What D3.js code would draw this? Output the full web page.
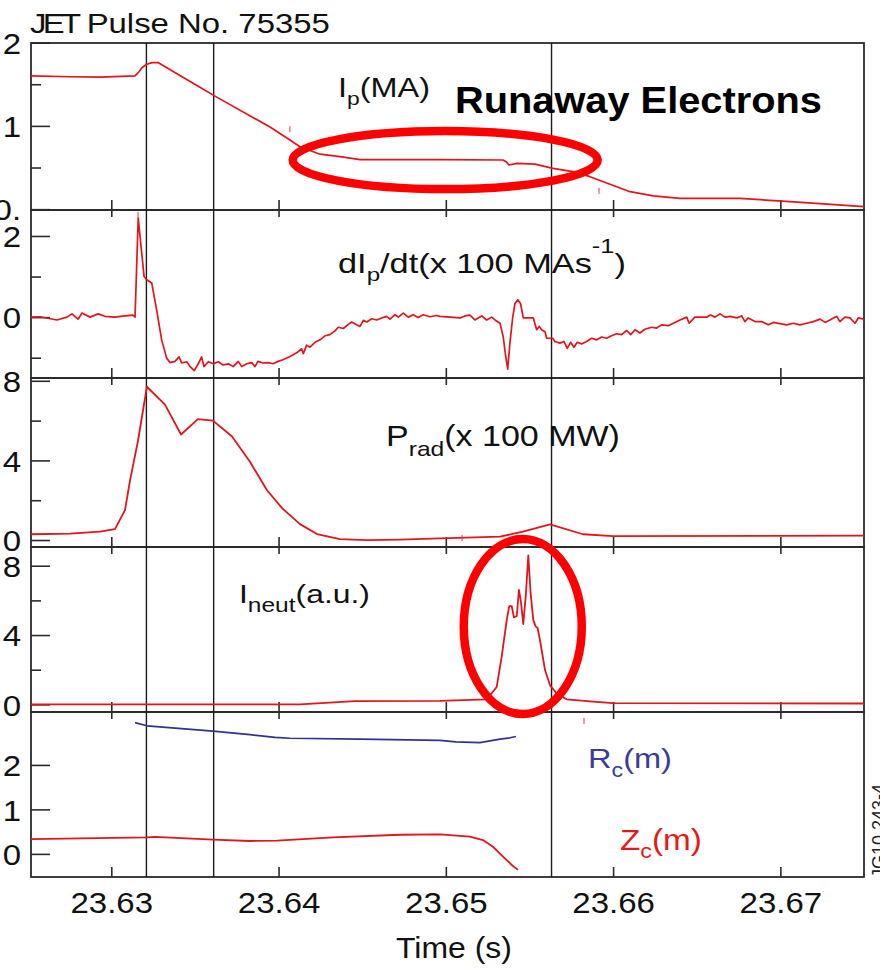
<!DOCTYPE html>
<html>
<head>
<meta charset="utf-8">
<script src="https://cdn.jsdelivr.net/npm/d3@7"></script>
<style>
  body { margin: 0; background: #fff; }
  svg { display: block; }
</style>
</head>
<body>
<svg id="chart" width="880" height="973"></svg>
<script>
// ---- JET pulse 75355 disruption traces: [time (s), value] ----
const plasmaCurrent = [
  [23.62520,1.60],[23.62753,1.59],[23.62932,1.585],[23.63142,1.60],[23.63166,1.65],
  [23.63184,1.70],[23.63213,1.74],[23.63243,1.76],[23.63279,1.76],[23.63512,1.485],
  [23.63620,1.357],[23.63949,0.986],[23.64068,0.83],[23.64128,0.75],[23.64248,0.66],
  [23.64367,0.63],[23.64487,0.595],[23.64965,0.595],[23.65342,0.59],[23.65360,0.57],
  [23.65378,0.53],[23.65425,0.55],[23.65533,0.54],[23.65641,0.49],[23.65760,0.45],
  [23.65862,0.39],[23.66101,0.21],[23.66240,0.16],[23.66400,0.13],[23.66758,0.13],
  [23.67057,0.09],[23.67500,0.03]
];

const currentRate = [
  [23.62520,0.0],[23.62574,0.01],[23.62675,-0.07],[23.62735,0.0],[23.62765,0.08],
  [23.62801,-0.05],[23.62825,0.1],[23.62873,0.0],[23.62921,0.08],[23.62962,0.02],
  [23.63022,0.0],[23.63082,0.03],[23.63130,0.05],[23.63142,0.0],[23.63161,2.44],
  [23.63196,1.0],[23.63212,0.92],[23.63242,0.84],[23.63271,0.18],[23.63301,-0.56],
  [23.63331,-1.01],[23.63351,-1.12],[23.63381,-1.09],[23.63405,-0.98],[23.63421,-1.13],
  [23.63451,-1.1],[23.63471,-1.22],[23.63496,-1.32],[23.63520,-1.15],[23.63540,-0.98],
  [23.63554,-1.22],[23.63580,-1.1],[23.63610,-1.15],[23.63640,-1.1],[23.63668,-1.18],
  [23.63700,-1.15],[23.63729,-1.22],[23.63759,-1.09],[23.63780,-1.22],[23.63809,-1.15],
  [23.63839,-1.12],[23.63859,-1.22],[23.63877,-1.09],[23.63907,-1.13],[23.63937,-1.12],
  [23.63967,-1.15],[23.63997,-1.09],[23.64026,-1.05],[23.64068,-0.97],[23.64108,-0.88],
  [23.64138,-0.78],[23.64148,-0.9],[23.64168,-0.69],[23.64188,-0.74],[23.64218,-0.62],
  [23.64248,-0.56],[23.64278,-0.46],[23.64307,-0.43],[23.64337,-0.34],[23.64357,-0.25],
  [23.64387,-0.28],[23.64417,-0.18],[23.64437,-0.12],[23.64467,-0.19],[23.64487,-0.23],
  [23.64507,-0.08],[23.64527,-0.12],[23.64557,-0.04],[23.64587,-0.07],[23.64616,-0.02],
  [23.64646,0.02],[23.64666,-0.05],[23.64696,0.06],[23.64716,0.0],[23.64746,0.1],
  [23.64775,0.0],[23.64805,0.06],[23.64835,-0.01],[23.64865,0.06],[23.64905,0.01],
  [23.64945,0.04],[23.64965,0.02],[23.65025,0.0],[23.65085,-0.02],[23.65114,0.03],
  [23.65144,0.05],[23.65174,-0.07],[23.65214,0.03],[23.65244,-0.07],[23.65274,0.0],
  [23.65294,-0.07],[23.65324,-0.15],[23.65343,-0.48],[23.65358,-0.97],[23.65370,-1.28],
  [23.65383,-0.64],[23.65400,0.0],[23.65413,0.33],[23.65430,0.43],[23.65447,0.33],
  [23.65463,-0.02],[23.65493,-0.02],[23.65523,-0.02],[23.65543,-0.31],[23.65559,-0.23],
  [23.65573,-0.31],[23.65593,-0.36],[23.65603,-0.52],[23.65623,-0.52],[23.65639,-0.52],
  [23.65652,-0.60],[23.65682,-0.64],[23.65706,-0.60],[23.65726,-0.77],[23.65746,-0.62],
  [23.65766,-0.74],[23.65786,-0.62],[23.65812,-0.66],[23.65842,-0.60],[23.65872,-0.52],
  [23.65902,-0.56],[23.65932,-0.49],[23.65961,-0.52],[23.65991,-0.46],[23.66021,-0.41],
  [23.66051,-0.43],[23.66081,-0.33],[23.66105,-0.43],[23.66131,-0.31],[23.66161,-0.39],
  [23.66190,-0.30],[23.66231,-0.25],[23.66260,-0.27],[23.66290,-0.19],[23.66330,-0.21],
  [23.66360,-0.15],[23.66400,-0.07],[23.66440,0.0],[23.66455,-0.15],[23.66489,0.0],
  [23.66519,0.0],[23.66559,0.0],[23.66583,0.05],[23.66609,0.0],[23.66639,0.08],
  [23.66669,0.0],[23.66699,0.02],[23.66739,-0.02],[23.66769,0.03],[23.66788,-0.11],
  [23.66808,-0.02],[23.66848,-0.11],[23.66888,-0.11],[23.66928,-0.19],[23.66958,-0.13],
  [23.66998,-0.16],[23.67038,-0.19],[23.67077,-0.15],[23.67117,-0.19],[23.67157,-0.15],
  [23.67197,-0.11],[23.67237,-0.05],[23.67267,-0.13],[23.67296,-0.07],[23.67337,0.02],
  [23.67356,-0.11],[23.67386,0.0],[23.67416,-0.02],[23.67446,-0.15],[23.67466,-0.02],
  [23.67500,-0.05]
];

const radiatedPower = [
  [23.62520,0.29],[23.62753,0.32],[23.62932,0.42],[23.63022,0.55],[23.63082,1.5],
  [23.63112,3.0],[23.63160,5.0],[23.63213,7.7],[23.63321,6.8],[23.63417,5.3],
  [23.63518,6.07],[23.63608,6.0],[23.63722,5.2],[23.63829,3.93],[23.63931,2.5],
  [23.64021,1.6],[23.64128,0.8],[23.64230,0.3],[23.64367,0.05],[23.64529,0.0],
  [23.64726,0.02],[23.64965,0.08],[23.65324,0.17],[23.65461,0.42],[23.65623,0.79],
  [23.65820,0.29],[23.65999,0.2],[23.67500,0.22]
];

const neutronRate = [
  [23.62520,0.0],[23.64128,0.0],[23.64457,0.19],[23.64965,0.2],[23.65244,0.29],
  [23.65304,1.0],[23.65334,2.75],[23.65364,4.86],[23.65379,5.67],[23.65394,5.67],
  [23.65407,5.02],[23.65424,5.1],[23.65437,6.6],[23.65449,5.92],[23.65463,4.63],
  [23.65479,6.4],[23.65493,8.6],[23.65507,6.4],[23.65523,4.86],[23.65537,4.5],
  [23.65549,4.4],[23.65563,3.7],[23.65593,1.98],[23.65623,1.1],[23.65663,0.63],
  [23.65722,0.29],[23.65862,0.17],[23.65999,0.07],[23.67500,0.05]
];

const radialPosition = [
  [23.63142,2.95],[23.63213,2.88],[23.63608,2.76],[23.63829,2.68],[23.63979,2.62],
  [23.64068,2.60],[23.64487,2.58],[23.64965,2.55],[23.65060,2.52],[23.65204,2.50],
  [23.65264,2.54],[23.65324,2.58],[23.65384,2.61],[23.65419,2.64]
];

const verticalPosition = [
  [23.62520,0.33],[23.63212,0.37],[23.63261,0.38],[23.63608,0.32],[23.63829,0.29],
  [23.63991,0.30],[23.64325,0.37],[23.64726,0.43],[23.64965,0.44],[23.65144,0.39],
  [23.65222,0.31],[23.65282,0.16],[23.65342,-0.06],[23.65394,-0.25],[23.65431,-0.36]
];

// short event markers on each trace
const ipMarks = [[23.64068,0.96],[23.65916,0.22]];
const rateMarks = [[23.63160,2.52]];
const pradMarks = [[23.65097,0.10]];
const posMarks = [[23.65826,2.99]];

// disruption phase boundaries (s)
const phaseTimes = [23.63210, 23.63612, 23.65632];

// axis ticks
const timeTicks = [23.63, 23.64, 23.65, 23.66, 23.67];
const timeTickLabels = ["23.63", "23.64", "23.65", "23.66", "23.67"];
const ipTicks = [2, 1, 0];
const ipTickLabels = ["2", "1", "0."];
const rateTicks = [2, 0];
const rateTickLabels = ["2", "0"];
const pradTicks = [8, 4, 0];
const pradTickLabels = ["8", "4", "0"];
const neutTicks = [8, 4, 0];
const neutTickLabels = ["8", "4", "0"];
const posTicks = [2, 1, 0];
const posTickLabels = ["2", "1", "0"];

// highlighted regions: centre (time, value) and half-widths (s, value units)
const runawayRing = {t: 23.64996, v: 0.589, dt: 0.009116, dv: 0.348};
const neutronRing = {t: 23.65460, v: 4.49, dt: 0.003527, dv: 5.05};

// ---- drawing ----
const FONT = '"Liberation Sans", Arial, Helvetica, sans-serif';
const FRAME = "#2b2b2b";
const RED = "#e3141c";
const BLUE = "#30328f";
const svg = d3.select("#chart");

const left = 31, right = 864;
const x = d3.scaleLinear().domain([23.6252, 23.6750]).range([left, right]);

const panels = [
  {top: 43,  bottom: 210, domain: [-0.01, 1.995], major: ipTicks,   labels: ipTickLabels,   minor: [0.5, 1.5], topTicks: false},
  {top: 210, bottom: 378, domain: [-1.5, 2.64],   major: rateTicks, labels: rateTickLabels, minor: [1, -1],    topTicks: true},
  {top: 378, bottom: 547, domain: [-0.35, 8.14],  major: pradTicks, labels: pradTickLabels, minor: [6, 2],     topTicks: true},
  {top: 547, bottom: 712, domain: [-0.44, 9.08],  major: neutTicks, labels: neutTickLabels, minor: [6, 2],     topTicks: true},
  {top: 712, bottom: 877, domain: [-0.52, 3.19],  major: posTicks,  labels: posTickLabels,  minor: [],         topTicks: true}
];
panels.forEach(p => {
  p.y = d3.scaleLinear().domain(p.domain).range([p.bottom, p.top]);
});

const axisLayer = svg.append("g");
const traceLayer = svg.append("g");
const annotLayer = svg.append("g");

panels.forEach(p => {
  const g = axisLayer.append("g");
  g.append("rect")
    .attr("x", left).attr("y", p.top)
    .attr("width", right - left).attr("height", p.bottom - p.top)
    .attr("fill", "none").attr("stroke", FRAME).attr("stroke-width", 1.8);

  // value ticks: long inward major ticks with labels, short minor ticks
  const ya = g.append("g").attr("transform", `translate(${left},0)`)
    .call(d3.axisLeft(p.y).tickValues(p.major).tickSize(-19).tickPadding(9)
      .tickFormat((d, i) => p.labels[i]));
  ya.select(".domain").remove();
  ya.selectAll("line").attr("stroke", FRAME).attr("stroke-width", 1.6);
  ya.selectAll("text")
    .attr("font-family", FONT).attr("font-size", 30).attr("fill", "#111")
    .attr("dy", "0.36em").attr("transform", "scale(1.1,1)");

  if (p.minor.length) {
    const ym = g.append("g").attr("transform", `translate(${left},0)`)
      .call(d3.axisLeft(p.y).tickValues(p.minor).tickSize(-10).tickFormat(""));
    ym.select(".domain").remove();
    ym.selectAll("line").attr("stroke", FRAME).attr("stroke-width", 1.6);
  }

  // time ticks on the bottom edge, and on the top edge below the first panel
  const xb = g.append("g").attr("transform", `translate(0,${p.bottom})`)
    .call(d3.axisBottom(x).tickValues(timeTicks).tickSize(-10).tickFormat(""));
  xb.select(".domain").remove();
  xb.selectAll("line").attr("stroke", FRAME).attr("stroke-width", 1.6);
  if (p.topTicks) {
    const xt = g.append("g").attr("transform", `translate(0,${p.top})`)
      .call(d3.axisTop(x).tickValues(timeTicks).tickSize(-7).tickFormat(""));
    xt.select(".domain").remove();
    xt.selectAll("line").attr("stroke", FRAME).attr("stroke-width", 1.6);
  }
});

// clip the "0." label of the top panel at its lower edge
svg.append("defs").append("clipPath").attr("id", "clipTop")
  .append("rect").attr("x", 0).attr("y", 0).attr("width", 880).attr("height", 210);

// time labels under the last panel
const lastP = panels[4];
const xl = axisLayer.append("g").attr("transform", `translate(0,${lastP.bottom})`)
  .call(d3.axisBottom(x).tickValues(timeTicks).tickSize(0)
    .tickFormat((d, i) => timeTickLabels[i]));
xl.select(".domain").remove();
xl.selectAll("text")
  .attr("font-family", FONT).attr("font-size", 30).attr("fill", "#111")
  .attr("y", 36).attr("dy", 0).attr("transform", "scale(1.1,1)");

// phase boundary lines through all panels
axisLayer.selectAll(".phase").data(phaseTimes).join("line")
  .attr("class", "phase")
  .attr("x1", d => x(d)).attr("x2", d => x(d))
  .attr("y1", panels[0].top).attr("y2", panels[4].bottom)
  .attr("stroke", "#1a1a1a").attr("stroke-width", 1.4);

// traces
function trace(data, p, color, width) {
  const line = d3.line().x(d => x(d[0])).y(d => p.y(d[1]));
  traceLayer.append("path").datum(data)
    .attr("d", line).attr("fill", "none")
    .attr("stroke", color).attr("stroke-width", width)
    .attr("stroke-linejoin", "round");
}
trace(plasmaCurrent, panels[0], RED, 1.7);
trace(currentRate, panels[1], RED, 1.7);
trace(radiatedPower, panels[2], RED, 1.8);
trace(neutronRate, panels[3], RED, 1.8);
trace(radialPosition, panels[4], BLUE, 1.7);
trace(verticalPosition, panels[4], RED, 1.8);

// small event markers
function marks(data, p) {
  traceLayer.selectAll(null).data(data).join("line")
    .attr("x1", d => x(d[0])).attr("x2", d => x(d[0]))
    .attr("y1", d => p.y(d[1]) - 3).attr("y2", d => p.y(d[1]) + 3)
    .attr("stroke", "#ee3333").attr("stroke-width", 1);
}
marks(ipMarks, panels[0]);
marks(rateMarks, panels[1]);
marks(pradMarks, panels[2]);
marks(posMarks, panels[4]);

// highlight rings
function ring(r, p) {
  const cx = x(r.t), cy = p.y(r.v);
  annotLayer.append("ellipse")
    .attr("cx", cx).attr("cy", cy)
    .attr("rx", x(r.t + r.dt) - cx).attr("ry", cy - p.y(r.v + r.dv))
    .attr("fill", "none").attr("stroke", "#ff0000").attr("stroke-width", 8.5);
}
ring(runawayRing, panels[0]);
ring(neutronRing, panels[3]);

// text helpers
function fitWidth(sel, x0, width) {
  const bb = sel.node().getBBox();
  const s = width / bb.width;
  sel.attr("transform", `translate(${x0},0) scale(${s},1) translate(${-bb.x},0)`);
}
function richLabel(parts, y, size, color, x0, width, weight) {
  const t = annotLayer.append("text")
    .attr("x", 0).attr("y", y)
    .attr("font-family", FONT).attr("font-size", size)
    .attr("font-weight", weight || "normal")
    .attr("fill", color);
  parts.forEach(pt => {
    const ts = t.append("tspan").text(pt.t);
    if (pt.size) ts.attr("font-size", pt.size);
    if (pt.dy) ts.attr("dy", pt.dy);
    if (pt.ls) ts.attr("letter-spacing", pt.ls);
  });
  fitWidth(t, x0, width);
  return t;
}

richLabel([{t: "JET", ls: -3}, {t: " Pulse No. 75355"}], 33, 27, "#111", 30, 300);
richLabel([{t: "Runaway Electrons"}], 113, 36, "#000", 455, 367, "bold");
richLabel([{t: "I"}, {t: "p", size: 19, dy: 8}, {t: "(MA)", dy: -8}], 97, 27, "#111", 338, 92);
richLabel([{t: "dI"}, {t: "p", size: 19, dy: 8}, {t: "/dt(x 100 MAs", dy: -8},
           {t: "-1", size: 20, dy: -20}, {t: ")", dy: 20}], 273, 27, "#111", 338, 288);
richLabel([{t: "P"}, {t: "rad", size: 21, dy: 10}, {t: "(x 100 MW)", dy: -10}], 446, 29, "#111", 386, 234);
richLabel([{t: "I"}, {t: "neut", size: 20, dy: 9}, {t: "(a.u.)", dy: -9}], 603, 26, "#111", 239, 131);
richLabel([{t: "R"}, {t: "c", size: 20, dy: 9}, {t: "(m)", dy: -9}], 768, 28, "#3b3c98", 588, 84);
richLabel([{t: "Z"}, {t: "c", size: 21, dy: 8}, {t: "(m)", dy: -8}], 850, 30, "#e41a1a", 620, 82);
richLabel([{t: "Time (s)"}], 958, 30, "#111", 396, 116);

// top panel zero label, cut at the panel edge
axisLayer.select("g").selectAll(".tick text").filter(function () { return d3.select(this).text() === "0."; })
  .attr("clip-path", null);

// figure reference
svg.append("text")
  .attr("transform", "translate(885,878) rotate(-90)")
  .attr("font-family", FONT).attr("font-size", 18).attr("fill", "#222")
  .text("JG10.243-4");
</script>
</body>
</html>
